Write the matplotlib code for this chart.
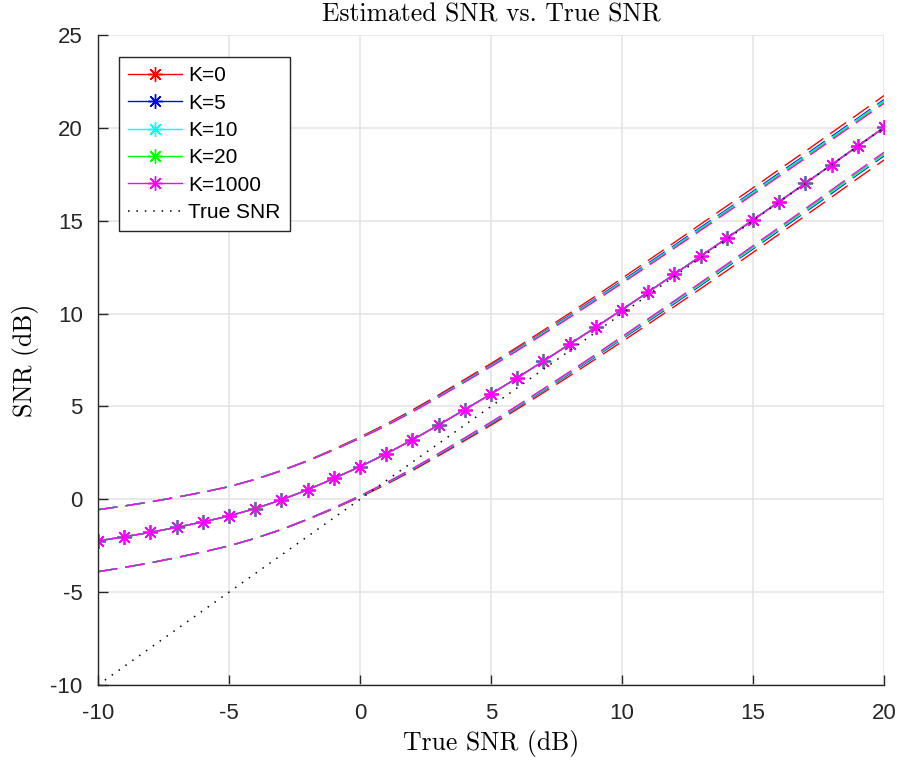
#!/usr/bin/env python3
# estimated SNR vs true SNR for several K values, mean with upper/lower bounds

import matplotlib
matplotlib.use("Agg")
import matplotlib.pyplot as plt
import numpy as np

############################
# data (true SNR steps of 1 dB)
true_snr = list(range(-10, 21))

mean_snr = [-2.24, -2.02, -1.78, -1.51, -1.22, -0.90, -0.50, -0.03, 0.51, 1.12,
            1.76, 2.45, 3.20, 4.00, 4.83, 5.67, 6.54, 7.44, 8.35, 9.27,
            10.21, 11.16, 12.12, 13.09, 14.06, 15.04, 16.03, 17.02, 18.02, 19.02, 20.02]

# bounds of the narrowest case (K=1000)
upper_snr = [-0.56, -0.36, -0.14, 0.11, 0.38, 0.68, 1.07, 1.53, 2.06, 2.65,
             3.28, 3.96, 4.70, 5.49, 6.31, 7.14, 8.00, 8.89, 9.79, 10.70,
             11.63, 12.57, 13.52, 14.48, 15.44, 16.41, 17.39, 18.36, 19.35, 20.33, 21.32]
lower_snr = [-3.90, -3.67, -3.42, -3.14, -2.84, -2.51, -2.10, -1.62, -1.07, -0.46,
             0.19, 0.89, 1.65, 2.47, 3.31, 4.16, 5.04, 5.95, 6.87, 7.81,
             8.76, 9.72, 10.69, 11.67, 12.66, 13.65, 14.65, 15.65, 16.66, 17.68, 18.69]

# how much wider each K's bounds are than K=1000 (dB)
k_labels = ["K=0", "K=5", "K=10", "K=20", "K=1000"]
k_colors = ["#ff0000", "#0000ff", "#00ffff", "#00ff00", "#ff00ff"]
widen_k0 = [0, 0, 0, 0, 0, 0, 0.01, 0.02, 0.03, 0.05,
            0.07, 0.09, 0.11, 0.13, 0.15, 0.17, 0.19, 0.21, 0.23, 0.25,
            0.27, 0.29, 0.31, 0.33, 0.35, 0.36, 0.37, 0.38, 0.39, 0.40, 0.42]
widen_k5 = [0, 0, 0, 0, 0, 0, 0, 0.01, 0.01, 0.02,
            0.03, 0.04, 0.05, 0.06, 0.07, 0.08, 0.09, 0.10, 0.11, 0.12,
            0.13, 0.14, 0.15, 0.16, 0.16, 0.17, 0.18, 0.18, 0.19, 0.19, 0.20]
widen_k10 = [0, 0, 0, 0, 0, 0, 0, 0, 0.01, 0.01,
             0.02, 0.03, 0.03, 0.04, 0.05, 0.05, 0.06, 0.07, 0.07, 0.08,
             0.09, 0.09, 0.10, 0.11, 0.11, 0.12, 0.12, 0.13, 0.13, 0.14, 0.14]
widen_k20 = [0, 0, 0, 0, 0, 0, 0, 0, 0, 0.01,
             0.01, 0.01, 0.02, 0.02, 0.02, 0.03, 0.03, 0.04, 0.04, 0.04,
             0.05, 0.05, 0.05, 0.06, 0.06, 0.06, 0.07, 0.07, 0.07, 0.08, 0.08]
widen_k1000 = [0] * 31
widen_all = [widen_k0, widen_k5, widen_k10, widen_k20, widen_k1000]

############################
plt.rcParams['font.family'] = ['Liberation Sans', 'DejaVu Sans']
latex_font = 'cmr10'
dark = '#262626'

fig = plt.figure(figsize=(8.99, 7.62), dpi=100)
ax = fig.add_axes([98/899, 1-685/762, (884-98)/899, (685-35)/762])

x = np.array(true_snr)
asterisk = (8, 2, 0)
dash = (14, 6)

for label, color, widen in zip(k_labels, k_colors, widen_all):
    w = np.array(widen)
    ax.plot(x, mean_snr, color=color, lw=1.0, marker=asterisk, markersize=10.5,
            markeredgewidth=1.0, label=label)
    ax.plot(x, np.array(upper_snr) + w, color=color, lw=1.0, dashes=dash)
    ax.plot(x, np.array(lower_snr) - w, color=color, lw=1.0, dashes=dash)

ax.plot(x, x, color='black', lw=1.1, dashes=(1, 4.5), label='True SNR')

ax.set_xlim(-10, 20)
ax.set_ylim(-10, 25)
ax.set_xticks(range(-10, 21, 5))
ax.set_yticks(range(-10, 26, 5))
ax.set_xticklabels([str(v) for v in range(-10, 21, 5)])
ax.set_yticklabels([str(v) for v in range(-10, 26, 5)])
ax.grid(True, color='#e3e3e3', lw=1.1)
ax.set_axisbelow(True)
ax.spines['top'].set_visible(False)
ax.spines['right'].set_visible(False)
for s in ['left', 'bottom']:
    ax.spines[s].set_color(dark)
    ax.spines[s].set_linewidth(1.0)
ax.tick_params(direction='in', length=7, width=1.0, color=dark, labelcolor=dark,
               labelsize=16)
ax.tick_params(axis='x', pad=13)
ax.tick_params(axis='y', pad=11)

ax.set_title('Estimated SNR vs. True SNR', family=latex_font, fontsize=18.5, pad=10)
ax.set_xlabel('True SNR (dB)', family=latex_font, fontsize=18.5, labelpad=4)
ax.set_ylabel('SNR (dB)', family=latex_font, fontsize=18.5, labelpad=8)

leg = ax.legend(loc='upper left', bbox_to_anchor=(21/786, 1-22/650), fontsize=15,
                handlelength=2.55, labelspacing=0.4, borderaxespad=0,
                fancybox=False, framealpha=1, edgecolor=dark, borderpad=0.45,
                handletextpad=0.3)
leg.get_frame().set_linewidth(1.0)

plt.savefig('out.png', dpi=100)
